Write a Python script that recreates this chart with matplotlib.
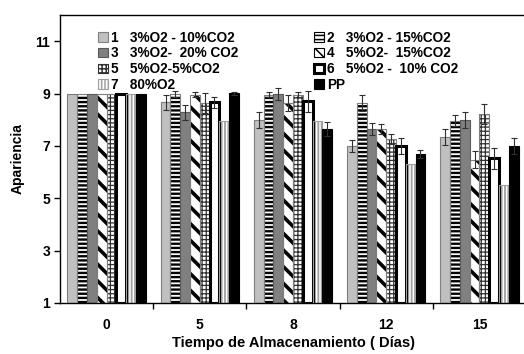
import matplotlib
matplotlib.use("Agg")
import matplotlib.pyplot as plt
import numpy as np
from matplotlib.patches import Patch

plt.rcParams['font.family'] = ['Liberation Sans', 'DejaVu Sans']
plt.rcParams['font.weight'] = 'bold'
plt.rcParams['hatch.linewidth'] = 1.1

# Storage days
days = ['0', '5', '8', '12', '15']

# Treatment labels
labels = ['1   3%O2 - 10%CO2', '2   3%O2 - 15%CO2', '3   3%O2-  20% CO2',
          '4   5%O2-  15%CO2', '5   5%O2-5%CO2', '6   5%O2 -  10% CO2',
          '7   80%O2', 'PP']

# Appearance score per treatment (mean) at each day
t1 = [9.0, 8.67, 8.00, 7.00, 7.33]
t2 = [9.0, 8.99, 8.96, 8.64, 7.97]
t3 = [9.0, 8.29, 9.00, 7.64, 8.00]
t4 = [9.0, 8.96, 8.64, 7.64, 6.47]
t5 = [9.0, 8.63, 8.95, 7.27, 8.22]
t6 = [9.0, 8.67, 8.71, 7.00, 6.53]
t7 = [9.0, 7.97, 7.97, 6.29, 5.49]
pp = [9.0, 9.01, 7.65, 6.70, 6.99]

# Standard deviation
e1 = [0.0, 0.29, 0.30, 0.24, 0.30]
e2 = [0.0, 0.11, 0.09, 0.30, 0.21]
e3 = [0.0, 0.29, 0.23, 0.24, 0.30]
e4 = [0.0, 0.08, 0.29, 0.19, 0.32]
e5 = [0.0, 0.38, 0.09, 0.19, 0.38]
e6 = [0.0, 0.21, 0.40, 0.29, 0.40]
e7 = [0.0, 0.0, 0.0, 0.0, 0.0]
epp = [0.0, 0.05, 0.26, 0.16, 0.30]

series = [t1, t2, t3, t4, t5, t6, t7, pp]
errors = [e1, e2, e3, e4, e5, e6, e7, epp]

# (face, hatch, hatch colour, outline colour, outline width, hatch width)
styles = [
    ('#c0c0c0', None, '#c0c0c0', '#7f7f7f', 0.8, 1.0),
    ('white', '----', 'black', '#7f7f7f', 0.8, 1.7),
    ('#808080', None, '#808080', '#5a5a5a', 0.8, 1.0),
    ('white', '\\\\', 'black', '#7f7f7f', 0.8, 2.6),
    ('white', '++++', '#303030', '#7f7f7f', 0.8, 0.9),
    ('white', None, 'white', 'black', 2.2, 1.0),
    ('white', '|||||', '#a0a0a0', '#a0a0a0', 0.8, 1.3),
    ('black', None, 'black', 'black', 0.8, 1.0),
]

fig = plt.figure(figsize=(5.24, 3.54), dpi=100)
ax = fig.add_axes([60 / 524, 51 / 354, 466 / 524, 288 / 354])

w = 0.105
xc = np.arange(len(days))
handles = []
for i, (vals, err, st) in enumerate(zip(series, errors, styles)):
    face, hatch, hcol, ecol, lw, hlw = st
    v = np.array(vals)
    e = np.array(err)
    x = xc + (i - 3.5) * w
    with plt.rc_context({'hatch.linewidth': hlw}):
        bars = ax.bar(x, v - 1, bottom=1, width=w, color=face, edgecolor=hcol,
                      hatch=hatch, linewidth=0, zorder=2)
        for b in bars:
            if hasattr(b, 'set_hatch_linewidth'):
                b.set_hatch_linewidth(hlw)
        h = Patch(facecolor=face, edgecolor=ecol if hatch is None else hcol,
                  hatch=hatch, linewidth=lw if i == 5 else 0.8)
        if hasattr(h, 'set_hatch_linewidth'):
            h.set_hatch_linewidth(hlw)
    handles.append(h)
    ax.bar(x, v - 1, bottom=1, width=w, fill=False, edgecolor=ecol,
           linewidth=lw, zorder=3)
    m = e > 0
    if m.any():
        ax.errorbar(x[m], v[m], yerr=e[m], fmt='none', ecolor='#303030',
                    elinewidth=0.8, capsize=2.2, capthick=0.8, zorder=4)

order = [0, 2, 4, 6, 1, 3, 5, 7]
ax.legend([handles[k] for k in order], [labels[k] for k in order], ncol=2,
          loc='upper left', bbox_to_anchor=(0.07, 0.965), frameon=False,
          fontsize=9.8, handlelength=0.7, handleheight=0.7,
          handletextpad=0.25, labelspacing=0.13, columnspacing=5.6,
          borderaxespad=0)

ax.set_xlim(-0.5, len(days) - 0.5)
ax.set_ylim(1, 12)
ax.set_yticks([1, 3, 5, 7, 9, 11])
ax.tick_params(axis='y', direction='out', length=4, width=1, labelsize=10, pad=3)
ax.set_xticks(np.arange(len(days) - 1) + 0.5)
ax.set_xticklabels([])
ax.tick_params(axis='x', which='major', direction='out', length=4, width=1)
ax.set_xticks(xc, minor=True)
ax.set_xticklabels(days, minor=True)
ax.tick_params(axis='x', which='minor', length=0, labelsize=10, pad=11)
for s in ax.spines.values():
    s.set_linewidth(1)
    s.set_color('black')

ax.set_ylabel('Apariencia', fontsize=10, fontweight='bold', labelpad=8)
ax.set_xlabel('Tiempo de Almacenamiento ( Días)', fontsize=10.5,
              fontweight='bold', labelpad=3)

fig.savefig('out.png', dpi=100)
